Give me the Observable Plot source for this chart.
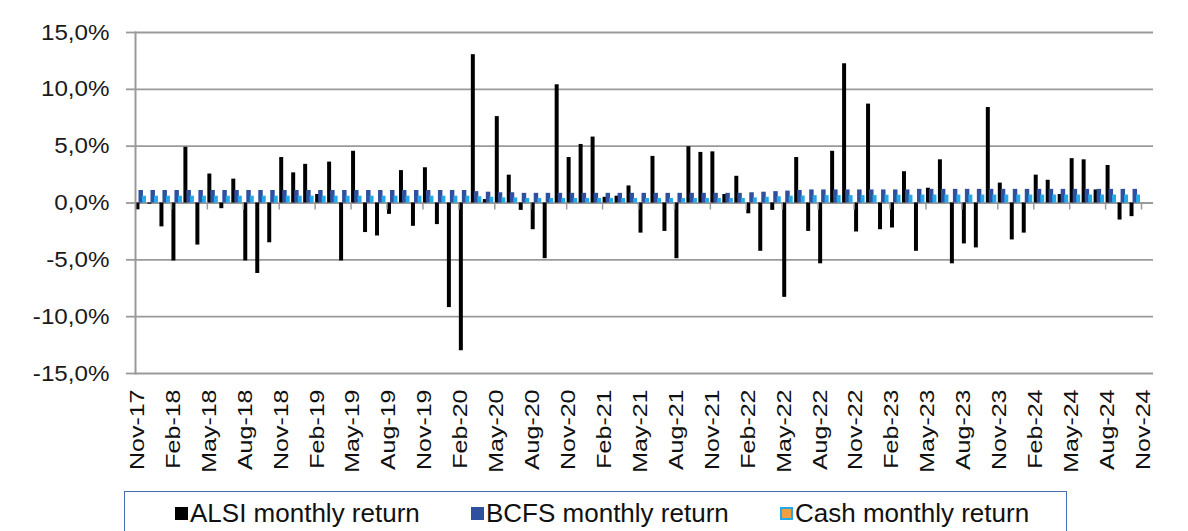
<!DOCTYPE html>
<html>
<head>
<meta charset="utf-8">
<script src="https://cdn.jsdelivr.net/npm/d3@7"></script>
<script src="https://cdn.jsdelivr.net/npm/@observablehq/plot@0.6"></script>
<style>
  body { margin: 0; background: #fff; font-family: "Liberation Sans", Arial, sans-serif; }
  #wrap { position: relative; width: 1188px; height: 531px; overflow: hidden; }
  #chart { position: absolute; left: 0; top: 0; }
  #legend { position: absolute; left: 124px; top: 491px; width: 943px; height: 70px;
            border: 1.5px solid #4a6cb0; box-sizing: border-box; background: #fff; }
  .sw { position: absolute; top: 14.5px; width: 13px; height: 13px; box-sizing: border-box; }
  .lt { position: absolute; top: 9.3px; font-size: 25px; line-height: 1; color: #111;
        white-space: nowrap; transform: scaleX(1.04); transform-origin: left center; }
</style>
</head>
<body>
<div id="wrap">
  <div id="chart"></div>
  <div id="legend"></div>
</div>
<script>
// ---- Data ----
const seriesNames = ["ALSI monthly return", "BCFS monthly return", "Cash monthly return"];
const yTicks = [-15, -10, -5, 0, 5, 10, 15];
const tickLabels = ["Nov-17","Feb-18","May-18","Aug-18","Nov-18","Feb-19","May-19","Aug-19","Nov-19",
  "Feb-20","May-20","Aug-20","Nov-20","Feb-21","May-21","Aug-21","Nov-21","Feb-22","May-22","Aug-22",
  "Nov-22","Feb-23","May-23","Aug-23","Nov-23","Feb-24","May-24","Aug-24","Nov-24"];

// monthly categories Nov-17 .. Nov-24
const months = d3.utcMonth.range(new Date(Date.UTC(2017, 10, 1)), new Date(Date.UTC(2024, 11, 1)))
  .map(d3.utcFormat("%b-%y"));

const alsi = [
  -0.6, -0.1, -2.1, -5.1, 4.9, -3.7, 2.55, -0.5, 2.1, -5.1, -6.2, -3.5,
  4.0, 2.65, 3.4, 0.75, 3.6, -5.1, 4.55, -2.6, -2.9, -1.0, 2.85, -2.05,
  3.1, -1.9, -9.2, -13.0, 13.05, 0.3, 7.6, 2.45, -0.65, -2.35, -4.9, 10.4,
  4.0, 5.15, 5.8, 0.5, 0.6, 1.5, -2.65, 4.1, -2.5, -4.9, 4.95, 4.45,
  4.5, 0.75, 2.35, -0.95, -4.25, -0.65, -8.3, 4.0, -2.5, -5.35, 4.55, 12.25,
  -2.55, 8.7, -2.35, -2.2, 2.75, -4.25, 1.3, 3.8, -5.35, -3.6, -3.95, 8.4,
  1.75, -3.25, -2.65, 2.45, 2.0, 0.75, 3.9, 3.8, 1.15, 3.3, -1.5, -1.2,
  null
];
const bcfs = [
  1.1, 1.1, 1.1, 1.1, 1.1, 1.1, 1.1, 1.1, 1.1, 1.1, 1.1, 1.1,
  1.1, 1.1, 1.1, 1.1, 1.1, 1.1, 1.1, 1.1, 1.1, 1.1, 1.1, 1.1,
  1.1, 1.1, 1.1, 1.1, 1.0, 0.95, 0.9, 0.9, 0.85, 0.85, 0.85, 0.85,
  0.85, 0.85, 0.85, 0.85, 0.85, 0.85, 0.85, 0.85, 0.85, 0.85, 0.85, 0.85,
  0.85, 0.85, 0.85, 0.9, 0.95, 1.0, 1.05, 1.1, 1.15, 1.15, 1.15, 1.15,
  1.15, 1.15, 1.15, 1.15, 1.15, 1.2, 1.2, 1.2, 1.2, 1.2, 1.2, 1.2,
  1.2, 1.2, 1.2, 1.2, 1.2, 1.2, 1.2, 1.2, 1.2, 1.2, 1.2, 1.2,
  null
];
const cash = [
  0.6, 0.6, 0.6, 0.6, 0.6, 0.6, 0.6, 0.6, 0.6, 0.6, 0.6, 0.6,
  0.6, 0.6, 0.6, 0.6, 0.6, 0.6, 0.6, 0.6, 0.6, 0.6, 0.6, 0.6,
  0.6, 0.6, 0.6, 0.6, 0.55, 0.5, 0.45, 0.45, 0.4, 0.4, 0.4, 0.4,
  0.4, 0.4, 0.4, 0.4, 0.4, 0.4, 0.4, 0.4, 0.4, 0.4, 0.4, 0.4,
  0.4, 0.4, 0.4, 0.45, 0.5, 0.55, 0.6, 0.62, 0.65, 0.65, 0.65, 0.65,
  0.65, 0.65, 0.68, 0.68, 0.68, 0.7, 0.7, 0.7, 0.7, 0.7, 0.7, 0.7,
  0.7, 0.7, 0.7, 0.7, 0.7, 0.7, 0.7, 0.7, 0.7, 0.7, 0.7, 0.7,
  null
];

const colors = { alsi: "#000000", bcfs: "#2f4f9f", cash: "#25a9e8", cashLegend: "#f0a040" };

const rows = months.map((m, i) => ({ month: m, alsi: alsi[i], bcfs: bcfs[i], cash: cash[i] }));

const fmtPct = d => d.toFixed(1).replace(".", ",") + "%";
const plotLeft = 135, plotRight = 1153;
const bw = (plotRight - plotLeft) / months.length;

const chart = Plot.plot({
  width: 1188,
  height: 491,
  marginLeft: plotLeft,
  marginRight: 1188 - plotRight,
  marginTop: 32,
  marginBottom: 118,
  style: { fontFamily: "'Liberation Sans', Arial, sans-serif", background: "#fff" },
  x: { type: "band", domain: months, padding: 0, axis: null },
  y: { domain: [-15, 15], axis: null },
  marks: [
    Plot.ruleY(yTicks, { stroke: "#9a9a9a", strokeWidth: 1.8 }),
    Plot.barY(rows, { x: "month", y: "alsi", fill: colors.alsi, insetLeft: 0.5, insetRight: 7.5 }),
    Plot.barY(rows, { x: "month", y: "bcfs", fill: colors.bcfs, insetLeft: 3.5, insetRight: 4 }),
    Plot.barY(rows, { x: "month", y: "cash", fill: colors.cash, insetLeft: 7, insetRight: 1 }),
    Plot.ruleX(tickLabels.slice(1), { x: d => d, y1: 0, y2: 0, insetBottom: -7, dx: -bw / 2,
      stroke: "#9a9a9a", strokeWidth: 1.5 }),
    Plot.frame({ anchor: "left", stroke: "#9a9a9a", strokeWidth: 2 }),
    Plot.axisY(yTicks, { tickSize: 9, tickPadding: 17, tickFormat: fmtPct, stroke: "#9a9a9a",
      strokeWidth: 1.8, fill: "#1a1a1a", fontSize: 22, label: null }),
    Plot.axisX(tickLabels, { tickSize: 0, tickPadding: 16, tickRotate: -90, fontSize: 20,
      fill: "#111", dx: -4, label: null })
  ]
});
document.getElementById("chart").appendChild(chart);

// stretch labels slightly along their reading direction, like the reference
d3.select(chart).selectAll('g[aria-label="y-axis tick label"] text')
  .attr("transform", function () { return (this.getAttribute("transform") || "") + " scale(1.1,1)"; });
d3.select(chart).selectAll('g[aria-label="x-axis tick label"] text')
  .attr("transform", function () { return (this.getAttribute("transform") || "") + " scale(1.25,1)"; });

// legend
const legendItems = [
  { label: seriesNames[0], left: 49.5, fill: colors.alsi, border: "none" },
  { label: seriesNames[1], left: 346, fill: colors.bcfs, border: "none" },
  { label: seriesNames[2], left: 654.5, fill: colors.cashLegend, border: "2px solid " + colors.cash }
];
const legend = d3.select("#legend");
for (const it of legendItems) {
  legend.append("div").attr("class", "sw")
    .style("left", it.left + "px").style("background", it.fill).style("border", it.border);
  legend.append("div").attr("class", "lt")
    .style("left", (it.left + 15) + "px").text(it.label);
}
</script>
</body>
</html>
